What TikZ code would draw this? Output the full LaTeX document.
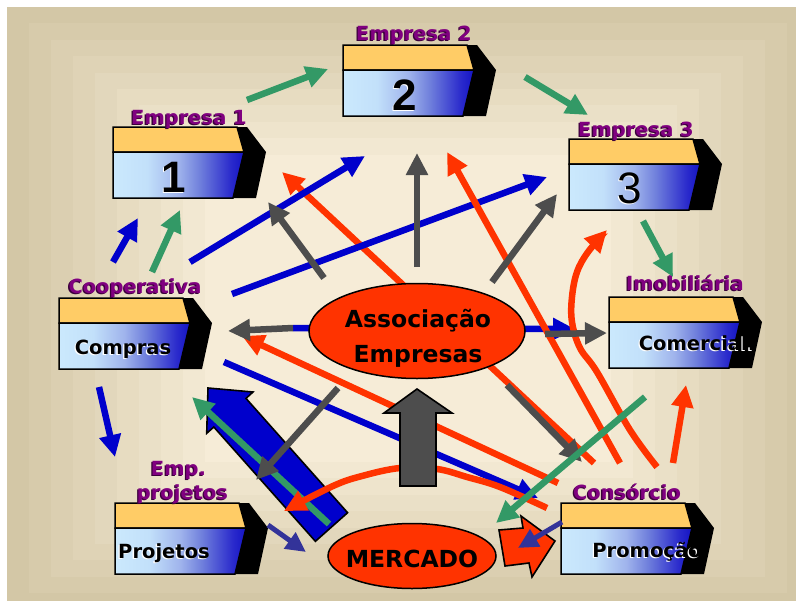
\documentclass[tikz,border=0pt]{standalone}
\usepackage{fontspec}
\setmainfont{DejaVu Sans}
\newfontfamily\digfont{Liberation Sans}
\usetikzlibrary{arrows.meta,shapes.geometric}

\definecolor{bgout}{HTML}{D3C7A6}
\definecolor{bgin}{HTML}{F6ECD7}
\definecolor{cgreen}{HTML}{339966}
\definecolor{cblue}{HTML}{0000CC}
\definecolor{cred}{HTML}{FF3300}
\definecolor{cgray}{HTML}{4D4D4D}
\definecolor{cnavy}{HTML}{333399}
\definecolor{cpurple}{HTML}{800080}
\definecolor{corange}{HTML}{FFCC66}
\definecolor{lbA}{HTML}{CBE9FD}
\definecolor{lbB}{HTML}{C2E0FA}
\definecolor{lbC}{HTML}{9FB3EC}
\definecolor{lbD}{HTML}{7080DC}
\definecolor{lbE}{HTML}{2A2ACC}
\definecolor{lbF}{HTML}{1414C4}

\pgfdeclarehorizontalshading{boxblue}{100bp}{color(0bp)=(lbA); color(25bp)=(lbA); color(38bp)=(lbB); color(50bp)=(lbC); color(58bp)=(lbD); color(70bp)=(lbE); color(75bp)=(lbF); color(100bp)=(lbF)}

\newcommand\shtext[6]{% name, x, y, style, shadow colour, text
  \node[#4, text=#5] (#1s) at (#2-1.3,#3+1.3) {#6};
  \node[#4] (#1) at (#2,#3) {#6};}

\tikzset{
  cbox/.pic={
    \fill[black] (124,0) -- (134,0) -- (153,25) -- (143,71) -- (120,71) -- (131,25) -- cycle;
    \draw[line width=1.5pt, fill=corange] (0,0) -- (124,0) -- (131,25) -- (0,25) -- cycle;
    \shade[shading=boxblue] (0,25) -- (131,25) -- (120,71) -- (0,71) -- cycle;
    \draw[line width=1.5pt] (0,25) -- (131,25) -- (120,71) -- (0,71) -- cycle;
  },
  arr/.style={line width=6.5pt, -{Triangle[width=21pt,length=22pt]}},
  garr/.style={arr, draw=cgreen, color=cgreen},
  barr/.style={arr, draw=cblue, color=cblue},
  rarr/.style={arr, draw=cred, color=cred},
  yarr/.style={arr, draw=cgray, color=cgray},
  narr/.style={line width=5pt, draw=cnavy, color=cnavy, -{Triangle[width=19pt,length=20pt]}},
  lbl/.style={font=\bfseries\fontsize{19.5}{20}\selectfont, text=cpurple, inner sep=0pt, anchor=base},
  boxt/.style={font=\bfseries\fontsize{19.5}{20}\selectfont, text=black, inner sep=0pt, anchor=base},
  elt/.style={font=\bfseries\fontsize{23.5}{24}\selectfont, text=black, inner sep=0pt, anchor=base},
  dig/.style={font=\digfont\bfseries\fontsize{44}{44}\selectfont, text=black, inner sep=0pt, anchor=base},
  digr/.style={font=\digfont\fontsize{44}{44}\selectfont, text=black, inner sep=0pt, anchor=base},
  blk/.style={line width=1.6pt, draw=black, line join=miter},
  ell/.style={ellipse, draw=black, line width=1.5pt, fill=cred, inner sep=0pt}
}

\begin{document}
\begin{tikzpicture}[x=1pt, y=-1pt]
\useasboundingbox (0,0) rectangle (796,603);

% background
\begin{scope}
  \clip (0,0) rectangle (796,600);
  \foreach \k in {0,...,9}{
    \pgfmathsetmacro\pc{100*\k/9}
    \fill[bgin!\pc!bgout] ({7+22*\k},{7+16.4*\k}) rectangle ({809-22*\k},{609.5-16.4*\k});
  }
\end{scope}

% boxes
\pic (e1) at (113,127) {cbox};
\pic (e2) at (343,45) {cbox};
\pic (e3) at (569,139) {cbox};
\pic (coop) at (59,298) {cbox};
\pic (imob) at (609,297) {cbox};
\pic (proj) at (115,503) {cbox};
\pic (cons) at (561,503) {cbox};

% labels
\shtext{le1}{189}{124}{lbl}{cpurple!45!black}{Empresa 1}
\shtext{le2}{414}{40}{lbl}{cpurple!45!black}{Empresa 2}
\shtext{le3}{636}{136}{lbl}{cpurple!45!black}{Empresa 3}
\shtext{lcoop}{135}{293}{lbl}{cpurple!45!black}{Cooperativa}
\shtext{limob}{685}{290}{lbl}{cpurple!45!black}{Imobiliária}
\shtext{lemp}{178.5}{475}{lbl}{cpurple!45!black}{Emp.}
\shtext{lproj}{182.5}{499}{lbl}{cpurple!45!black}{projetos}
\shtext{lcons}{627}{499}{lbl}{cpurple!45!black}{Consórcio}

% box texts
\shtext{d1}{174}{192}{dig}{white}{1}
\shtext{d2}{405}{110}{dig}{white}{2}
\shtext{d3}{630}{203}{digr}{white}{3}
\shtext{tcomp}{123}{354}{boxt}{white}{Compras}
\shtext{tproj}{164}{558}{boxt}{white}{Projetos}
\shtext{tcom}{697}{350}{boxt}{white}{Comercial.}
\shtext{tprom}{647}{557}{boxt}{white}{Promoção}

% coordinates
\coordinate (g1a) at (247,100); \coordinate (g1b) at (328,69);
\coordinate (g2a) at (525,77);  \coordinate (g2b) at (588,115);
\coordinate (g3a) at (643,221); \coordinate (g3b) at (673,277);
\coordinate (g4a) at (152,272); \coordinate (g4b) at (180,210);
\coordinate (g5a) at (645,397); \coordinate (g5b) at (496,523);
\coordinate (g6a) at (329,524); \coordinate (g6b) at (192,397);
\coordinate (b1a) at (113,262); \coordinate (b1b) at (138,218);
\coordinate (b2a) at (190,262); \coordinate (b2b) at (365,156);
\coordinate (b3a) at (232,294); \coordinate (b3b) at (547,177);
\coordinate (b4a) at (99,387);  \coordinate (b4b) at (115,457);
\coordinate (b5a) at (224,362); \coordinate (b5b) at (538,498);
\coordinate (b7a) at (293,328); \coordinate (b7b) at (575,329);
\coordinate (y1a) at (293,328); \coordinate (y1b) at (228,331);
\coordinate (y2a) at (545,334); \coordinate (y2b) at (607,333);
\coordinate (y3a) at (324,278); \coordinate (y3b) at (268,202);
\coordinate (y4a) at (417,267); \coordinate (y4b) at (417,153);
\coordinate (y5a) at (492,282); \coordinate (y5b) at (557,194);
\coordinate (y6a) at (338,388); \coordinate (y6b) at (256,480);
\coordinate (y7a) at (507,385); \coordinate (y7b) at (582,462);
\coordinate (r1a) at (594,463); \coordinate (r1b) at (282,172);
\coordinate (r2a) at (620,463); \coordinate (r2b) at (447,152);
\coordinate (r3a) at (657,467); \coordinate (r3b) at (607,230);
\coordinate (r5a) at (673,463); \coordinate (r5b) at (686,385);
\coordinate (r6a) at (558,483); \coordinate (r6b) at (242,336);
\coordinate (r7a) at (547,508); \coordinate (r7b) at (284,511);
\coordinate (n1a) at (268,525); \coordinate (n1b) at (306,552);
\coordinate (n2a) at (562,522); \coordinate (n2b) at (518,548);

% big blue block arrow
\draw[blk, fill=cblue] (208,388) -- (253,392) -- (246,398.4) -- (347.6,512.7) -- (315.4,541.3) -- (213.8,427) -- (206.7,433.3) -- cycle;

% lines passing behind the ellipse
\draw[rarr] (r1a) -- (r1b);
\draw[barr] (b7a) -- (b7b);

% other lines
\draw[barr] (b1a) -- (b1b);
\draw[barr] (b2a) -- (b2b);
\draw[barr] (b3a) -- (b3b);
\draw[barr] (b4a) -- (b4b);
\draw[barr] (b5a) -- (b5b);
\draw[rarr] (r6a) -- (r6b);
\draw[rarr] (r2a) -- (r2b);
\draw[rarr] plot[smooth, tension=0.6] coordinates {(r3a) (630,430) (597,372) (580,348) (572,322) (572,297) (577,272) (588,252) (r3b)};
\draw[rarr] (r5a) -- (r5b);
\draw[garr] (g6a) -- (g6b);
\draw[rarr] plot[smooth, tension=0.6] coordinates {(r7a) (500,487) (467,477) (437,469) (400,468) (362,476) (333,486) (r7b)};

% ellipses
\node[ell, minimum width=216pt, minimum height=95pt] (assoc) at (417,331) {};
\node[ell, minimum width=168pt, minimum height=65pt] (merc) at (412,556) {};
\node[elt] (tassoc1) at (418,327) {Associação};
\node[elt] (tassoc2) at (418,362) {Empresas};
\node[elt] (tmerc) at (412,567) {MERCADO};

% gray arrows
\draw[yarr] (y1a) -- (y1b);
\draw[yarr] (y2a) -- (y2b);
\draw[yarr] (y3a) -- (y3b);
\draw[yarr] (y4a) -- (y4b);
\draw[yarr] (y5a) -- (y5b);
\draw[yarr] (y7a) -- (y7b);

% big gray block arrow
\draw[blk, fill=cgray] (417,389) -- (452,413) -- (436,413) -- (436,486) -- (400,486) -- (400,413) -- (384,413) -- cycle;

\draw[yarr] (y6a) -- (y6b);

% green arrows
\draw[garr] (g1a) -- (g1b);
\draw[garr] (g2a) -- (g2b);
\draw[garr] (g3a) -- (g3b);
\draw[garr] (g4a) -- (g4b);
\draw[garr] (g5a) -- (g5b);

% red block arrow near MERCADO
\draw[blk, fill=cred] (499,530) -- (523,528) -- (521,516) -- (555,541) -- (532,577) -- (529,563) -- (505,566) -- cycle;

% navy arrows
\draw[narr] (n1a) -- (n1b);
\draw[narr] (n2a) -- (n2b);
\end{tikzpicture}
\end{document}
